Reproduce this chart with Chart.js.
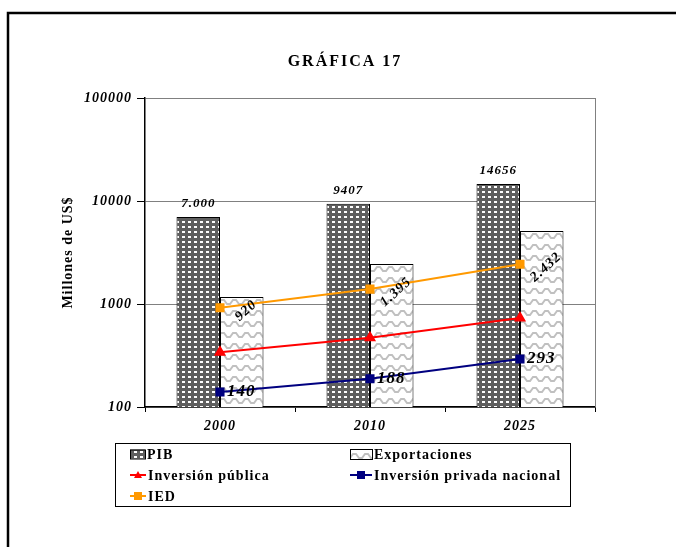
<!DOCTYPE html>
<html>
<head>
<meta charset="utf-8">
<script src="https://cdn.jsdelivr.net/npm/chart.js@4.4.0/dist/chart.umd.min.js"></script>
<style>
  html, body { margin: 0; padding: 0; background: #fff; }
  #wrap { width: 676px; height: 547px; position: relative; }
</style>
</head>
<body>
<div id="wrap"><canvas id="chart" width="676" height="547"></canvas></div>
<script>
// Data
const years = ['2000', '2010', '2025'];
const pib = [7000, 9407, 14656];
const pibLabels = ['7.000', '9407', '14656'];
const exportaciones = [1170, 2440, 5100];
const inversionPublica = [340, 470, 730];
const inversionPrivada = [140, 188, 293];
const ied = [920, 1395, 2432];
const iedLabels = ['920', '1.395', '2.432'];
const yTicks = [100, 1000, 10000, 100000];

const SERIF = "'Liberation Serif', 'Times New Roman', serif";

// Hatch patterns like the old Excel fills
function makePibPattern(ctx) {
    const c = document.createElement('canvas');
    c.width = 6; c.height = 5;
    const g = c.getContext('2d');
    g.fillStyle = '#5f5f5f';
    g.fillRect(0, 0, 6, 5);
    g.fillStyle = '#ffffff';
    g.fillRect(2, 1, 3, 2);
    return ctx.createPattern(c, 'repeat');
}

function makeExportPattern(ctx) {
    const c = document.createElement('canvas');
    c.width = 12; c.height = 11;
    const g = c.getContext('2d');
    g.fillStyle = '#ffffff';
    g.fillRect(0, 0, 12, 11);
    g.strokeStyle = '#c0c0c0';
    g.lineWidth = 2;
    g.beginPath();
    g.moveTo(-1, 7); g.lineTo(2, 7); g.lineTo(5, 3); g.lineTo(8, 3); g.lineTo(11, 7); g.lineTo(13, 7);
    g.stroke();
    return ctx.createPattern(c, 'repeat');
}

const canvas = document.getElementById('chart');
const ctx = canvas.getContext('2d');
const pibFill = makePibPattern(ctx);
const exportFill = makeExportPattern(ctx);

// letter spacing for all chart text (the original is a spaced-out Times)
const spacingPlugin = {
    id: 'spacing',
    beforeDraw(chart) { chart.ctx.letterSpacing = '1px'; }
};

// frame, title, plot border, value labels and the boxed legend
const decorPlugin = {
    id: 'decor',
    beforeDraw(chart) {
        const c = chart.ctx;
        c.save();
        c.fillStyle = '#fff';
        c.fillRect(0, 0, chart.width, chart.height);
        c.restore();
    },
    afterDatasetsDraw(chart) {
        const c = chart.ctx;
        const a = chart.chartArea;
        c.save();
        // right border of the plot
        c.strokeStyle = '#808080';
        c.lineWidth = 1;
        c.beginPath();
        c.moveTo(a.right + 0.5, a.top);
        c.lineTo(a.right + 0.5, a.bottom);
        c.stroke();

        c.fillStyle = '#000';
        // PIB labels above bars
        c.font = `italic 700 13px ${SERIF}`;
        c.letterSpacing = '1px';
        c.textAlign = 'center';
        c.textBaseline = 'alphabetic';
        chart.getDatasetMeta(0).data.forEach((bar, i) => {
            c.fillText(pibLabels[i], bar.x, bar.y - 10);
        });

        // IED labels, rotated
        c.font = `italic 700 14px ${SERIF}`;
        chart.getDatasetMeta(4).data.forEach((pt, i) => {
            c.save();
            c.translate(pt.x + 26, pt.y + 3);
            c.rotate(-42 * Math.PI / 180);
            c.textAlign = 'center';
            c.textBaseline = 'middle';
            c.fillText(iedLabels[i], 0, 0);
            c.restore();
        });

        // Inversión privada labels
        c.font = `italic 700 17px ${SERIF}`;
        c.textAlign = 'left';
        c.textBaseline = 'middle';
        chart.getDatasetMeta(3).data.forEach((pt, i) => {
            c.fillText(String(inversionPrivada[i]), pt.x + 7, pt.y);
        });
        c.restore();
    },
    afterDraw(chart) {
        const c = chart.ctx;
        c.save();
        // outer frame (top and left only)
        c.strokeStyle = '#000';
        c.lineWidth = 2.5;
        c.beginPath();
        c.moveTo(8, chart.height);
        c.lineTo(8, 13);
        c.lineTo(chart.width, 13);
        c.stroke();

        // title
        c.fillStyle = '#000';
        c.font = `700 16px ${SERIF}`;
        c.letterSpacing = '2px';
        c.textAlign = 'center';
        c.textBaseline = 'middle';
        c.fillText('GRÁFICA 17', 345, 62);

        // legend box
        c.letterSpacing = '1px';
        c.strokeStyle = '#000';
        c.lineWidth = 1;
        c.strokeRect(115.5, 443.5, 455, 63);

        const ds = chart.data.datasets;
        const cols = [130, 350];
        const rows = [454, 475, 496];
        const items = [
            { d: ds[0], x: cols[0], y: rows[0] },
            { d: ds[1], x: cols[1], y: rows[0] },
            { d: ds[2], x: cols[0], y: rows[1] },
            { d: ds[3], x: cols[1], y: rows[1] },
            { d: ds[4], x: cols[0], y: rows[2] }
        ];
        c.font = `700 14px ${SERIF}`;
        c.textAlign = 'left';
        c.textBaseline = 'middle';
        items.forEach(it => {
            const d = it.d;
            let textX;
            if (d.type === 'line') {
                const w = it.x === cols[0] ? 16 : 22;
                c.strokeStyle = d.borderColor;
                c.lineWidth = 2;
                c.beginPath();
                c.moveTo(it.x, it.y);
                c.lineTo(it.x + w, it.y);
                c.stroke();
                c.fillStyle = d.borderColor;
                const mx = it.x + w / 2;
                if (d.pointStyle === 'triangle') {
                    c.beginPath();
                    c.moveTo(mx, it.y - 4);
                    c.lineTo(mx + 4, it.y + 3);
                    c.lineTo(mx - 4, it.y + 3);
                    c.closePath();
                    c.fill();
                } else {
                    c.fillRect(mx - 4, it.y - 4, 8, 8);
                }
                textX = it.x + w + 2;
            } else {
                const w = it.x === cols[0] ? 15 : 22;
                const h = it.x === cols[0] ? 9 : 10;
                c.fillStyle = d.backgroundColor;
                c.fillRect(it.x, it.y - h / 2, w, h);
                c.strokeStyle = '#000';
                c.lineWidth = 1;
                c.strokeRect(it.x + 0.5, it.y - h / 2 + 0.5, w, h);
                textX = it.x + w + 2;
            }
            c.fillStyle = '#000';
            c.fillText(d.label, textX, it.y + 1);
        });
        c.restore();
    }
};

new Chart(canvas, {
    type: 'bar',
    data: {
        labels: years,
        datasets: [
            {
                label: 'PIB',
                data: pib,
                backgroundColor: pibFill,
                borderColor: '#000',
                borderWidth: 1,
                categoryPercentage: 0.58,
                barPercentage: 1.0,
                order: 2
            },
            {
                label: 'Exportaciones',
                data: exportaciones,
                backgroundColor: exportFill,
                borderColor: '#000',
                borderWidth: 1,
                categoryPercentage: 0.58,
                barPercentage: 1.0,
                order: 2
            },
            {
                type: 'line',
                label: 'Inversión pública',
                data: inversionPublica,
                borderColor: '#ff0000',
                backgroundColor: '#ff0000',
                borderWidth: 2,
                pointStyle: 'triangle',
                pointRadius: 5,
                order: 1
            },
            {
                type: 'line',
                label: 'Inversión privada nacional',
                data: inversionPrivada,
                borderColor: '#000080',
                backgroundColor: '#000080',
                borderWidth: 2,
                pointStyle: 'rect',
                pointRadius: 5,
                order: 1
            },
            {
                type: 'line',
                label: 'IED',
                data: ied,
                borderColor: '#ff9900',
                backgroundColor: '#ff9900',
                borderWidth: 2,
                pointStyle: 'rect',
                pointRadius: 5,
                order: 1
            }
        ]
    },
    options: {
        responsive: false,
        animation: false,
        layout: { padding: { left: 60, top: 98, right: 81, bottom: 0 } },
        plugins: {
            legend: { display: false },
            title: { display: false },
            tooltip: { enabled: false }
        },
        scales: {
            x: {
                grid: { offset: true, drawOnChartArea: false, tickLength: 5, color: '#000' },
                border: { color: '#000', width: 1.5 },
                ticks: {
                    color: '#000',
                    padding: 6,
                    font: { family: SERIF, size: 14, weight: '700', style: 'italic' }
                },
                afterFit(scale) { scale.height = 140; }
            },
            y: {
                type: 'logarithmic',
                min: 100,
                max: 100000,
                grid: { color: '#808080', lineWidth: 1, tickLength: 8, tickColor: '#000' },
                border: { color: '#000', width: 1.5 },
                ticks: {
                    color: '#000',
                    padding: 5,
                    font: { family: SERIF, size: 14, weight: '700', style: 'italic' },
                    callback: v => String(v)
                },
                afterBuildTicks(scale) { scale.ticks = yTicks.map(v => ({ value: v })); },
                afterFit(scale) { scale.width = 85; },
                title: {
                    display: true,
                    text: 'Millones de US$',
                    color: '#000',
                    padding: 0,
                    font: { family: SERIF, size: 14, weight: '700' }
                }
            }
        }
    },
    plugins: [spacingPlugin, decorPlugin]
});
</script>
</body>
</html>
